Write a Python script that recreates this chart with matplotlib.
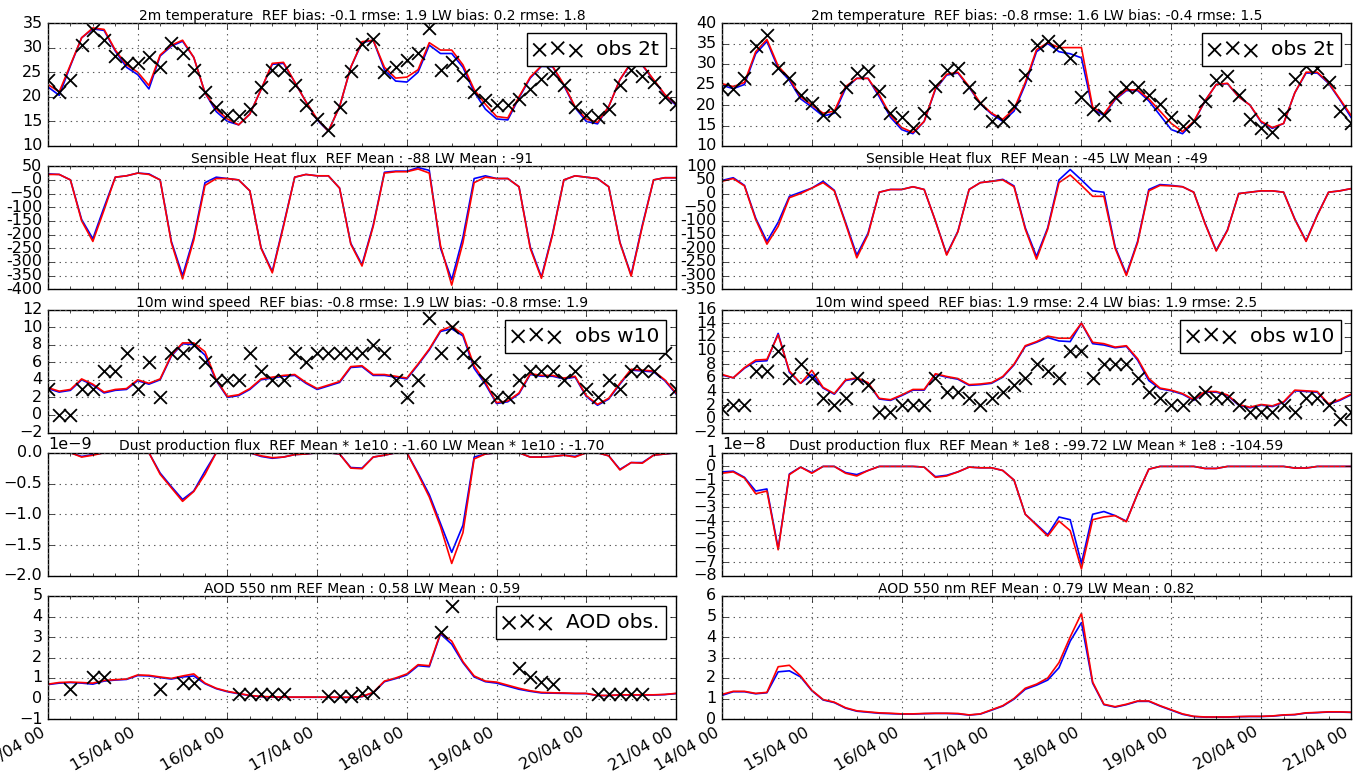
import numpy as np
import pandas as pd
import matplotlib
matplotlib.use("Agg")
import matplotlib.pyplot as plt
import matplotlib.dates as mdates
from matplotlib.ticker import MultipleLocator, FuncFormatter

n = np.nan

# ---------------- data (3-hourly, 14/04 00 -> 21/04 00) ----------------
times = pd.date_range("2016-04-14 00:00", "2016-04-21 00:00", freq="3h")

t2m_L_ref = [22.0, 20.3, 26.3, 32.0, 33.8, 33.5, 29.3, 26.0, 24.5, 21.6, 28.3, 30.3, 31.3, 28.0, 20.8, 17.0, 15.0, 14.3, 16.5, 21.5,
             26.6, 26.8, 23.0, 19.0, 15.3, 13.0, 18.0, 26.0, 31.0, 31.5, 25.5, 23.2, 23.0, 25.0, 30.5, 28.8, 28.8, 26.0, 21.0, 17.5,
             15.5, 15.3, 19.8, 23.8, 26.2, 26.1, 22.3, 17.8, 15.0, 14.5, 18.0, 23.5, 26.8, 26.4, 23.4, 20.4, 18.3]
t2m_L_lw = [22.5, 21.0, 26.5, 32.0, 34.0, 33.7, 29.5, 26.5, 25.0, 22.3, 28.5, 30.5, 31.5, 28.0, 20.8, 17.5, 15.5, 14.3, 16.5, 21.5,
            26.8, 27.0, 23.0, 19.0, 15.5, 13.0, 18.0, 26.0, 31.2, 31.5, 26.0, 23.8, 24.0, 25.5, 31.0, 29.5, 29.5, 26.5, 21.5, 18.5,
            16.0, 15.7, 20.0, 24.0, 26.3, 26.2, 22.5, 18.0, 15.5, 14.8, 18.0, 23.5, 27.0, 26.5, 23.5, 20.5, 18.5]
t2m_L_obs = [23.5, 21.0, 23.5, 30.5, 33.5, 31.5, 28.3, 26.8, 26.8, 28.0, 26.0, 31.0, 29.0, 25.5, 21.0, 18.0, 16.3, 16.0, 17.5, 22.0,
             25.5, 25.5, 22.5, 18.3, 15.5, 13.2, 18.0, 25.3, 30.8, 31.8, 25.0, 26.0, 27.5, 29.0, 34.0, 25.5, 27.0, 24.5, 21.0, 19.3,
             18.3, 18.3, 19.5, 21.5, 23.7, 24.8, 22.5, 18.0, 16.3, 15.8, 17.5, 22.5, 25.5, 24.3, 23.0, 20.0, 18.5]

t2m_R_ref = [24.8, 24.0, 25.0, 32.5, 35.5, 29.0, 26.0, 21.5, 19.5, 17.3, 18.0, 24.0, 26.5, 26.5, 22.0, 17.0, 14.0, 13.0, 16.0, 23.8,
             27.3, 27.8, 24.3, 20.3, 17.8, 16.0, 18.5, 25.0, 33.0, 35.0, 33.0, 32.5, 31.5, 19.0, 17.5, 21.3, 23.5, 23.5, 21.0, 17.5,
             14.0, 13.0, 15.8, 21.0, 25.0, 25.2, 22.0, 20.0, 15.8, 14.3, 15.5, 23.0, 27.8, 27.8, 25.3, 21.3, 17.0]
t2m_R_lw = [25.2, 24.5, 25.5, 33.0, 36.0, 29.5, 26.5, 22.0, 20.0, 18.0, 18.5, 24.5, 26.5, 26.5, 22.5, 17.5, 14.5, 13.3, 16.0, 24.0,
            27.5, 28.0, 24.5, 20.5, 18.0, 16.5, 19.0, 25.5, 33.5, 35.2, 34.0, 34.0, 34.0, 19.5, 17.8, 21.5, 23.7, 23.7, 21.5, 18.5,
            15.5, 13.5, 16.0, 21.0, 25.0, 25.3, 22.0, 20.0, 16.0, 14.5, 15.5, 23.0, 28.0, 28.0, 25.5, 21.5, 17.5]
t2m_R_obs = [24.0, 24.0, 26.5, 34.5, 37.0, 29.0, 26.5, 22.5, 20.5, 17.5, 18.5, 24.5, 27.8, 28.3, 23.5, 18.0, 17.0, 14.5, 18.0, 24.7,
             28.5, 29.0, 24.5, 20.5, 16.0, 16.0, 19.8, 27.3, 34.7, 35.7, 34.5, 31.5, 22.0, 19.0, 17.5, 22.0, 24.5, 24.5, 22.5, 20.3,
             17.0, 15.0, 16.0, 21.0, 26.0, 27.0, 22.5, 16.5, 14.3, 13.5, 17.8, 26.3, 29.5, 29.0, 25.5, 18.5, 15.5]

shf_L_ref = [22, 20, 0, -145, -215, -100, 10, 15, 25, 22, 0, -225, -350, -210, -10, 10, 5, 0, -40, -248,
             -335, -165, 10, 20, 15, 15, -30, -232, -310, -165, 28, 32, 32, 45, 35, -250, -365, -210, 5, 15,
             5, 5, -25, -245, -355, -195, 0, 15, 10, 5, -25, -228, -348, -165, 0, 8, 8]
shf_L_lw = [20, 20, 0, -150, -225, -110, 10, 15, 25, 20, 0, -230, -362, -220, -20, 5, 5, 0, -40, -250,
            -340, -170, 10, 20, 15, 15, -30, -235, -315, -170, 25, 30, 30, 40, 25, -240, -385, -230, -10, 10,
            5, 5, -25, -250, -360, -200, 0, 15, 10, 5, -25, -230, -352, -170, 0, 8, 8]

shf_R_ref = [48, 58, 30, -90, -175, -105, -10, 5, 20, 45, 12, -105, -225, -145, 5, 15, 15, 25, 15, -100,
             -222, -138, 15, 40, 45, 52, 28, -125, -230, -125, 50, 88, 50, 10, 5, -195, -295, -175, 15, 33,
             30, 25, 5, -108, -208, -133, 0, 5, 10, 10, 5, -93, -173, -78, 5, 10, 18]
shf_R_lw = [45, 55, 28, -95, -185, -120, -15, 0, 20, 40, 10, -110, -235, -150, 5, 15, 15, 25, 15, -100,
            -225, -140, 15, 40, 45, 50, 25, -130, -240, -130, 40, 68, 30, -10, -10, -200, -300, -180, 10, 30,
            28, 25, 5, -110, -210, -135, 0, 5, 10, 10, 5, -95, -175, -80, 5, 10, 18]

w10_L_ref = [3.0, 2.6, 2.8, 4.0, 3.4, 2.5, 2.8, 2.9, 3.9, 3.5, 4.0, 6.7, 8.1, 8.0, 6.8, 3.9, 2.0, 2.2, 2.9, 4.0,
             4.2, 4.4, 4.5, 3.6, 2.9, 3.3, 3.7, 5.4, 5.5, 4.5, 4.5, 4.3, 4.1, 5.7, 7.4, 9.5, 9.8, 9.0, 5.3, 3.5,
             1.3, 1.5, 2.4, 4.6, 4.4, 4.4, 4.1, 4.3, 2.1, 1.1, 1.8, 3.5, 5.1, 5.0, 4.9, 3.9, 2.4]
w10_L_lw = [3.1, 2.7, 2.9, 4.1, 3.5, 2.6, 2.9, 3.0, 4.0, 3.6, 4.1, 6.8, 8.2, 8.2, 7.2, 4.0, 2.1, 2.3, 3.0, 4.1,
            4.3, 4.5, 4.6, 3.7, 3.0, 3.4, 3.8, 5.5, 5.6, 4.6, 4.6, 4.4, 4.2, 5.8, 7.5, 9.6, 10.1, 9.2, 5.6, 3.7,
            1.4, 1.6, 2.5, 4.7, 4.5, 4.5, 4.2, 4.4, 2.2, 1.2, 1.9, 3.6, 5.2, 5.1, 5.0, 4.0, 2.5]
w10_L_obs = [3, 0, 0, 3, 3, 5, 5, 7, 3, 6, 2, 7, 7, 8, 6, 4, 4, 4, 7, 5,
             4, 4, 7, 6, 7, 7, 7, 7, 7, 8, 7, 4, 2, 4, 11, 7, 10, 7, 6, 4,
             2, 2, 4, 5, 5, 5, 4, 5, 3, 2, 4, 3, 5, 5, 5, 7, 3]

w10_R_ref = [6.4, 6.0, 7.4, 8.4, 8.5, 12.5, 6.8, 5.2, 6.5, 4.5, 3.6, 5.6, 5.9, 5.2, 2.9, 2.7, 3.4, 4.2, 4.2, 6.5,
             6.1, 5.8, 4.9, 5.0, 5.2, 6.1, 7.9, 10.6, 11.2, 11.9, 11.4, 11.3, 14.0, 11.0, 10.8, 10.4, 10.6, 8.6, 5.6, 4.4,
             4.1, 3.6, 2.7, 3.9, 3.9, 3.4, 2.0, 1.6, 2.0, 1.8, 2.4, 4.1, 4.0, 3.9, 2.1, 2.7, 3.5]
w10_R_lw = [6.5, 6.0, 7.5, 8.6, 8.7, 12.3, 7.0, 5.2, 7.1, 4.6, 3.7, 5.7, 6.0, 5.3, 3.0, 2.8, 3.5, 4.3, 4.3, 6.6,
            6.2, 5.9, 5.0, 5.1, 5.3, 6.2, 8.0, 10.7, 11.3, 12.1, 11.8, 11.8, 14.0, 11.2, 11.0, 10.5, 10.7, 8.8, 5.9, 4.5,
            4.2, 3.7, 2.8, 4.0, 4.0, 3.5, 2.1, 1.7, 2.1, 1.9, 2.5, 4.2, 4.1, 4.0, 2.2, 2.8, 3.6]
w10_R_obs = [1.5, 2, 2, 7, 7, 10, 6, 8, 6, 3, 2, 3, 6, 5, 1, 1, 2, 2, 2, 6,
             4, 4, 3, 2, 3, 4, 5, 6, 8, 7, 6, 10, 10, 6, 8, 8, 8, 6, 4, 3,
             2, 2, 3, 4, 3, 3, 2, 1, 1, 1, 2, 1, 3, 3, 2, 0, 1]

# dust production flux, left in units of 1e-9, right in units of 1e-8
dust_L_ref = [0, 0, 0, -0.06, -0.03, 0, 0, 0, 0, 0, -0.33, -0.55, -0.76, -0.62, -0.3, 0, 0, 0, 0, -0.06,
              -0.09, -0.07, -0.03, -0.02, 0, 0, -0.02, -0.24, -0.25, -0.07, -0.04, 0, 0, -0.33, -0.68, -1.15, -1.62, -1.18, -0.07, -0.02,
              0, 0, 0, -0.07, -0.07, -0.06, -0.04, -0.06, 0, 0, -0.05, -0.27, -0.16, -0.16, -0.04, -0.02, 0]
dust_L_lw = [0, 0, 0, -0.07, -0.04, 0, 0, 0, 0, 0, -0.35, -0.57, -0.79, -0.63, -0.35, 0, 0, 0, 0, -0.05,
             -0.08, -0.07, -0.03, -0.02, 0, 0, -0.02, -0.25, -0.26, -0.07, -0.04, 0, 0, -0.35, -0.72, -1.2, -1.8, -1.3, -0.1, -0.02,
             0, 0, 0, -0.07, -0.07, -0.06, -0.04, -0.07, 0, 0, -0.05, -0.28, -0.16, -0.17, -0.04, -0.02, 0]
dust_R_ref = [-0.4, -0.35, -0.8, -1.8, -1.65, -6.0, -0.55, -0.05, -0.45, 0, 0, -0.45, -0.6, -0.3, 0, 0, 0, 0, -0.05, -0.75,
              -0.65, -0.4, -0.05, -0.1, -0.1, -0.3, -1.0, -3.5, -4.25, -5.0, -3.7, -3.9, -7.1, -3.5, -3.3, -3.6, -4.0, -2.0, -0.2, 0,
              0, 0, 0, -0.15, -0.15, 0, 0, 0, 0, 0, 0, -0.12, -0.12, 0, 0, 0, 0]
dust_R_lw = [-0.5, -0.4, -0.85, -2.0, -1.8, -6.1, -0.6, -0.05, -0.5, 0, 0, -0.5, -0.7, -0.3, 0, 0, 0, 0, -0.05, -0.8,
             -0.7, -0.4, -0.05, -0.1, -0.1, -0.3, -1.0, -3.5, -4.3, -5.1, -4.0, -4.7, -7.5, -3.9, -3.7, -3.6, -4.05, -2.0, -0.2, 0,
             0, 0, 0, -0.15, -0.15, 0, 0, 0, 0, 0, 0, -0.12, -0.12, 0, 0, 0, 0]
dust_L_unit = 1e-9
dust_R_unit = 1e-8

aod_L_ref = [0.68, 0.75, 0.78, 0.75, 0.7, 0.85, 0.9, 0.93, 1.12, 1.1, 1.02, 0.95, 1.05, 1.1, 0.72, 0.48, 0.33, 0.23, 0.14, 0.09,
             0.07, 0.06, 0.06, 0.06, 0.06, 0.06, 0.05, 0.05, 0.09, 0.28, 0.82, 0.97, 1.15, 1.6, 1.55, 3.15, 2.65, 1.75, 1.05, 0.82,
             0.75, 0.6, 0.45, 0.35, 0.27, 0.26, 0.25, 0.24, 0.24, 0.14, 0.14, 0.17, 0.17, 0.17, 0.17, 0.19, 0.24]
aod_L_lw = [0.7, 0.78, 0.8, 0.78, 0.75, 0.88, 0.92, 0.95, 1.15, 1.13, 1.05, 0.98, 1.1, 1.2, 0.75, 0.5, 0.35, 0.25, 0.15, 0.1,
            0.08, 0.07, 0.07, 0.07, 0.07, 0.07, 0.06, 0.06, 0.1, 0.3, 0.85, 1.0, 1.2, 1.65, 1.6, 3.2, 2.8, 1.8, 1.1, 0.85,
            0.8, 0.65, 0.5, 0.38, 0.3, 0.28, 0.27, 0.25, 0.25, 0.15, 0.15, 0.18, 0.18, 0.18, 0.18, 0.2, 0.25]
aod_L_obs = [n, n, 0.45, n, 1.05, 1.05, n, n, n, n, 0.45, n, 0.75, 0.75, n, n, n, 0.2, 0.2, 0.2,
             0.2, 0.2, n, n, n, 0.12, 0.12, 0.12, 0.25, 0.3, n, n, n, n, n, 3.25, 4.5, n, n, n,
             n, n, 1.5, 1.05, 0.8, 0.7, n, n, n, 0.2, 0.2, 0.2, 0.2, 0.2, n, n, n]

aod_R_ref = [1.15, 1.33, 1.33, 1.23, 1.28, 2.3, 2.35, 2.05, 1.38, 0.93, 0.8, 0.53, 0.38, 0.33, 0.28, 0.26, 0.24, 0.24, 0.26, 0.27,
             0.27, 0.25, 0.19, 0.24, 0.43, 0.63, 0.97, 1.45, 1.65, 1.9, 2.5, 3.8, 4.7, 1.75, 0.7, 0.58, 0.7, 0.86, 0.86, 0.63,
             0.43, 0.23, 0.12, 0.09, 0.09, 0.09, 0.11, 0.12, 0.12, 0.14, 0.19, 0.21, 0.29, 0.31, 0.34, 0.34, 0.32]
aod_R_lw = [1.2, 1.35, 1.35, 1.25, 1.3, 2.55, 2.62, 2.1, 1.4, 0.95, 0.82, 0.55, 0.4, 0.35, 0.3, 0.28, 0.25, 0.25, 0.27, 0.28,
            0.28, 0.27, 0.2, 0.25, 0.45, 0.65, 1.0, 1.5, 1.7, 2.0, 2.75, 4.0, 5.15, 1.8, 0.72, 0.6, 0.72, 0.88, 0.88, 0.65,
            0.45, 0.25, 0.13, 0.1, 0.1, 0.1, 0.12, 0.13, 0.13, 0.15, 0.2, 0.22, 0.3, 0.32, 0.35, 0.35, 0.33]

titles_L = ["2m temperature  REF bias: -0.1 rmse: 1.9 LW bias: 0.2 rmse: 1.8",
            "Sensible Heat flux  REF Mean : -88 LW Mean : -91",
            "10m wind speed  REF bias: -0.8 rmse: 1.9 LW bias: -0.8 rmse: 1.9",
            "Dust production flux  REF Mean * 1e10 : -1.60 LW Mean * 1e10 : -1.70",
            "AOD 550 nm REF Mean : 0.58 LW Mean : 0.59"]
titles_R = ["2m temperature  REF bias: -0.8 rmse: 1.6 LW bias: -0.4 rmse: 1.5",
            "Sensible Heat flux  REF Mean : -45 LW Mean : -49",
            "10m wind speed  REF bias: 1.9 rmse: 2.4 LW bias: 1.9 rmse: 2.5",
            "Dust production flux  REF Mean * 1e8 : -99.72 LW Mean * 1e8 : -104.59",
            "AOD 550 nm REF Mean : 0.79 LW Mean : 0.82"]

# ---------------- style ----------------
plt.style.use('classic')
TICK_FS = 11.5
TITLE_FS = 10
LEG_FS = 14.5
plt.rcParams.update({
    'figure.facecolor': 'white', 'savefig.facecolor': 'white',
    'font.family': ['DejaVu Sans'], 'font.size': TICK_FS,
    'axes.titlesize': TITLE_FS, 'legend.fontsize': LEG_FS,
    'xtick.labelsize': TICK_FS, 'ytick.labelsize': TICK_FS,
    'axes.unicode_minus': True,
})

W, H = 1361, 772
fig = plt.figure(figsize=(W / 100, H / 100), dpi=100)

col_x = [(48, 676), (722, 1351)]
row_tops = [23, 166.25, 309.5, 452.75, 596]
row_h = 123


def make_ax(col, row):
    x0, x1 = col_x[col]
    top = row_tops[row]
    return fig.add_axes([x0 / W, (H - top - row_h) / H, (x1 - x0) / W, row_h / H])


def shf_fmt(v, p):
    s = '%d' % v
    if v > -100:
        s = s.replace('-', '\u2212')
    return s


def panel(ax, ref, lw, obs, title, ylim, step, label=None, row=0, fmt=None):
    ax.plot(times, ref, color='b', lw=1.2, zorder=2)
    ax.plot(times, lw, color='r', lw=1.2, zorder=2)
    if obs is not None:
        ax.scatter(times, obs, marker='x', s=85, c='k', linewidths=1.3, label=label, zorder=3)
        ax.legend(loc='upper right', scatterpoints=3, fontsize=LEG_FS, borderaxespad=0.5,
                  handlelength=2.4, handletextpad=0.7, borderpad=0.35,
                  fancybox=False, framealpha=1.0, edgecolor='k')
    ax.set_xlim(times[0], times[-1])
    ax.set_ylim(*ylim)
    ax.yaxis.set_major_locator(MultipleLocator(step))
    if fmt is not None:
        ax.yaxis.set_major_formatter(FuncFormatter(fmt))
    ax.xaxis.set_major_locator(mdates.DayLocator())
    ax.xaxis.set_minor_locator(mdates.HourLocator(byhour=[6, 12, 18]))
    ax.xaxis.set_major_formatter(mdates.DateFormatter('%d/%m %H'))
    ax.grid(True, which='major', linestyle=':', color='0.35', linewidth=0.8)
    ax.tick_params(which='both', direction='in', top=True, right=True)
    ax.tick_params(which='major', length=4)
    ax.tick_params(which='minor', length=2)
    ax.set_title(title, fontsize=TITLE_FS, pad=2)
    ax.yaxis.set_offset_position('left')
    ax.yaxis.get_offset_text().set_fontsize(TICK_FS)
    if row < 4:
        ax.tick_params(labelbottom=False)
    else:
        for lab in ax.get_xticklabels():
            lab.set_rotation(30)
            lab.set_ha('right')
    for sp in ax.spines.values():
        sp.set_linewidth(1.0)


# left column
panel(make_ax(0, 0), t2m_L_ref, t2m_L_lw, t2m_L_obs, titles_L[0], (10, 35), 5, 'obs 2t', 0)
panel(make_ax(0, 1), shf_L_ref, shf_L_lw, None, titles_L[1], (-400, 50), 50, None, 1, shf_fmt)
panel(make_ax(0, 2), w10_L_ref, w10_L_lw, w10_L_obs, titles_L[2], (-2, 12), 2, 'obs w10', 2)
panel(make_ax(0, 3), np.array(dust_L_ref) * dust_L_unit, np.array(dust_L_lw) * dust_L_unit, None,
      titles_L[3], (-2.0e-9, 0.0), 0.5e-9, None, 3)
panel(make_ax(0, 4), aod_L_ref, aod_L_lw, aod_L_obs, titles_L[4], (-1, 5), 1, 'AOD obs.', 4)

# right column
panel(make_ax(1, 0), t2m_R_ref, t2m_R_lw, t2m_R_obs, titles_R[0], (10, 40), 5, 'obs 2t', 0)
panel(make_ax(1, 1), shf_R_ref, shf_R_lw, None, titles_R[1], (-350, 100), 50, None, 1, shf_fmt)
panel(make_ax(1, 2), w10_R_ref, w10_R_lw, w10_R_obs, titles_R[2], (-2, 16), 2, 'obs w10', 2)
panel(make_ax(1, 3), np.array(dust_R_ref) * dust_R_unit, np.array(dust_R_lw) * dust_R_unit, None,
      titles_R[3], (-8e-8, 1e-8), 1e-8, None, 3)
panel(make_ax(1, 4), aod_R_ref, aod_R_lw, None, titles_R[4], (0, 6), 1, None, 4)

fig.savefig("out.png", dpi=100)
